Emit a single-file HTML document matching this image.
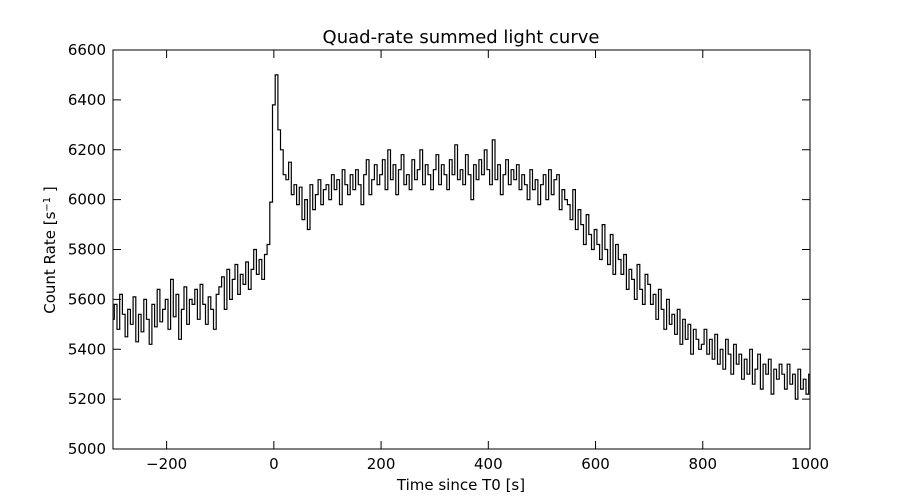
<!DOCTYPE html>
<html><head><meta charset="utf-8"><style>
body{margin:0;background:#fff;}
svg{display:block;font-family:"DejaVu Sans","Liberation Sans",sans-serif;}
</style></head><body>
<svg id="chart" width="900" height="500" viewBox="0 0 900 500">
<rect x="0" y="0" width="900" height="500" fill="#fff"/>
<text x="461" y="43" font-size="18" text-anchor="middle">Quad-rate summed light curve</text>
<text x="461" y="490" font-size="15" text-anchor="middle">Time since T0 [s]</text>
<text x="55" y="250" font-size="15" text-anchor="middle" transform="rotate(-90 55 250)">Count Rate [s<tspan baseline-shift="super" font-size="10">−1</tspan> ]</text>
<g id="ticks"></g>
<path id="curve" fill="none" stroke="#000" stroke-width="1.2"/>
<rect x="113" y="50" width="697" height="399" fill="none" stroke="#000" stroke-width="1"/>
</svg>
<script>
const xTicks=[-200,0,200,400,600,800,1000];
const yTicks=[5000,5200,5400,5600,5800,6000,6200,6400,6600];
const t0=-300, dt=5;
const rates=[
5520,5580,5480,5620,5540,5450,5560,5500,5610,5430,
5540,5470,5600,5520,5420,5580,5490,5640,5510,5560,
5600,5480,5680,5530,5620,5440,5560,5650,5500,5600,
5580,5640,5520,5660,5580,5500,5610,5560,5480,5620,
5650,5690,5560,5720,5600,5680,5740,5620,5700,5660,
5750,5640,5720,5800,5700,5760,5680,5780,5820,5990,
6380,6500,6280,6200,6100,6080,6150,6020,6060,5980,
6050,5920,6000,5880,6060,5960,6020,6080,5980,6040,
6060,6000,6100,6040,6080,5980,6120,6060,6020,6100,
6040,6120,6060,5980,6100,6160,6020,6080,6140,6060,
6100,6160,6040,6200,6080,6140,6020,6120,6180,6060,
6100,6040,6160,6080,6120,6200,6060,6140,6100,6040,
6120,6180,6060,6140,6100,6040,6160,6100,6220,6080,
6120,6060,6180,6100,6000,6140,6080,6160,6100,6200,
6120,6060,6240,6080,6140,6020,6100,6160,6060,6120,
6080,6140,6040,6100,6060,6000,6120,6040,6080,5980,
6060,6100,6000,6120,6020,6080,6100,5960,6040,6000,
5980,5920,6040,5880,5960,5900,5820,5940,5860,5800,
5880,5820,5760,5900,5800,5740,5860,5700,5820,5760,
5700,5780,5640,5720,5680,5600,5740,5640,5580,5700,
5660,5580,5620,5520,5640,5560,5480,5600,5500,5540,
5460,5560,5420,5520,5440,5500,5380,5480,5440,5400,
5420,5480,5380,5440,5360,5460,5340,5400,5320,5440,
5380,5300,5420,5340,5380,5280,5360,5300,5400,5260,
5320,5380,5240,5340,5300,5360,5220,5320,5280,5340,
5300,5240,5340,5260,5300,5200,5320,5240,5280,5220,
5300];
const X0=113,X1=810,Y0=449,Y1=50;
const xs=v=>X0+(v-(-300))/(1300)*(X1-X0);
const ys=v=>Y0-(v-5000)/1600*(Y0-Y1);
const NS="http://www.w3.org/2000/svg";
const g=document.getElementById('ticks');
function mk(tag,attrs){const e=document.createElementNS(NS,tag);for(const k in attrs)e.setAttribute(k,attrs[k]);g.appendChild(e);return e;}
xTicks.forEach(v=>{const x=xs(v);
 const a=mk('line',{x1:x,x2:x,y1:Y0,y2:Y0-8,stroke:'#000'});
 const b=mk('line',{x1:x,x2:x,y1:Y1,y2:Y1+8,stroke:'#000'});
 const t=mk('text',{x:x,y:469,'font-size':15,'text-anchor':'middle'});t.textContent=String(v).replace('-','−');
 });
yTicks.forEach(v=>{const y=ys(v);
 const a=mk('line',{x1:X0,x2:X0+8,y1:y,y2:y,stroke:'#000'});
 const b=mk('line',{x1:X1,x2:X1-8,y1:y,y2:y,stroke:'#000'});
 const t=mk('text',{x:106,y:y+5,'font-size':15,'text-anchor':'end'});t.textContent=v;
 });
let d='';
rates.forEach((r,i)=>{const tl=Math.max(t0,t0+i*dt-dt/2),tr=Math.min(1000,t0+i*dt+dt/2);
 d+=(i===0?'M':'L')+xs(tl).toFixed(1)+','+ys(r).toFixed(1)+'L'+xs(tr).toFixed(1)+','+ys(r).toFixed(1);});
document.getElementById('curve').setAttribute('d',d);
</script>
</body></html>
